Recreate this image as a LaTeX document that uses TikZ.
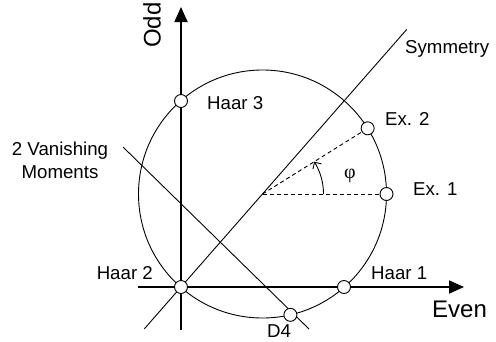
\documentclass[tikz,border=0pt]{standalone}
\usepackage{fontspec}
\setmainfont{Liberation Sans}
\newfontfamily\phifont{Liberation Serif}
\usetikzlibrary{calc,arrows.meta}
\begin{document}
\begin{tikzpicture}[x=1pt,y=-1pt,
  lbl/.style={inner sep=0pt,font=\fontsize{18.67}{24}\selectfont},
  biglbl/.style={inner sep=0pt,font=\fontsize{24}{28}\selectfont},
  axis/.style={line width=1.8pt,-{Triangle[length=15pt,width=13pt]}},
  thin line/.style={line width=0.9pt},
  dot/.style={circle,draw,fill=white,line width=0.9pt,minimum size=13pt,inner sep=0pt},
  dashline/.style={line width=0.9pt,dash pattern=on 4pt off 3pt}]
\useasboundingbox (0,0) rectangle (496,341);
% coordinates
\coordinate (C) at (262.5,194);
\coordinate (O) at (181,287);
\coordinate (xs) at (138,287);
\coordinate (xe) at (464,287);
\coordinate (ys) at (181,330);
\coordinate (ye) at (181,7);
\coordinate (s1) at ($(O)!-0.45!(C)$);
\coordinate (s2) at ($(O)!2.77!(C)$);
\coordinate (v1) at (123,147);
\coordinate (v2) at (309,329);
% circle
\draw[thin line] (C) circle[radius=124];
% lines
\draw[thin line] (s1) -- (s2);
\draw[thin line] (v1) -- (v2);
% axes
\draw[axis] (xs) -- (xe);
\draw[axis] (ys) -- (ye);
% points
\node[dot] (haar2) at (O) {};
\node[dot] (haar3) at (181,101) {};
\node[dot] (haar1) at (344,287) {};
\node[dot] (ex1) at ($(C)+(0:124)$) {};
\node[dot] (ex2) at ($(C)+(-32:124)$) {};
\node[dot] (d4) at ($(C)+(77:124)$) {};
% dashed radii
\draw[dashline] (C) -- (ex1);
\draw[dashline] (C) -- (ex2);
% angle arc
\draw[line width=0.9pt,-{Straight Barb[length=5pt,width=10pt]}] plot[domain=0:-32,samples=25,smooth] ({262.5+61*cos(\x)},{194+61*sin(\x)});
% labels
\node[lbl,anchor=base west] (t3) at (207,109) {Haar 3};
\node[lbl,anchor=base west] (tsym) at (405,53) {Symmetry};
\node[lbl,anchor=base west] (tex2) at (385,125) {Ex. 2};
\node[lbl,font=\fontsize{20}{24}\phifont] (tphi) at (350,176) {φ};
\node[lbl,anchor=base west] (tex1) at (413,195) {Ex. 1};
\node[lbl,anchor=base] (tv1) at (60,155) {2 Vanishing};
\node[lbl,anchor=base] (tv2) at (60,178) {Moments};
\node[lbl,anchor=base east] (t2) at (153,279) {Haar 2};
\node[lbl,anchor=base west] (t1) at (371,279) {Haar 1};
\node[biglbl,anchor=base west] (teven) at (432,317) {Even};
\node[lbl,anchor=base] (td4) at (279,337.5) {D4};
\node[biglbl,rotate=90] (todd) at (152,25) {Odd};
\end{tikzpicture}
\end{document}
